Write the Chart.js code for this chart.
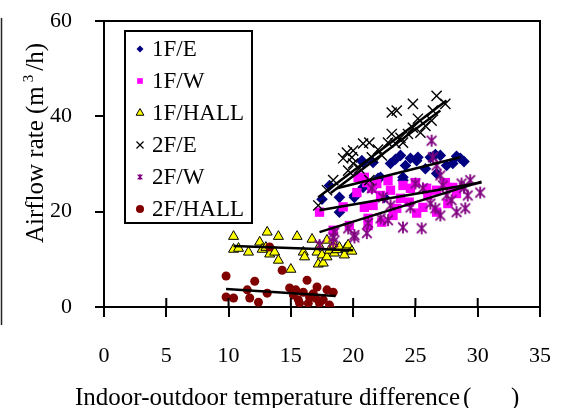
<!DOCTYPE html>
<html>
<head>
<meta charset="utf-8">
<script src="https://cdn.jsdelivr.net/npm/chart.js@4.4.0/dist/chart.umd.min.js"></script>
<style>
  html, body { margin: 0; padding: 0; background: #fff; }
  canvas { display: block; }
</style>
</head>
<body>
<canvas id="airflow-chart" width="569" height="408"></canvas>
<script>
//~~~~~~~~~~~~~~~~~~~~~~~~~~~~~~~~~~~~~~~~~~~~~~~~~~~~~~~~~~~~~~~~~~~~~~~~~
// DATA
const xTicks = [0, 5, 10, 15, 20, 25, 30, 35];
const yTicks = [0, 20, 40, 60];
const seriesNames = ["1F/E", "1F/W", "1F/HALL", "2F/E", "2F/W", "2F/HALL"];

// 1F/E
const f1eX = [17.5, 18.1, 18.9, 18.9, 20.1, 20.1, 20.5, 20.7, 20.8, 20.8, 21.5, 21.6, 22.0, 22.2, 22.5, 23.0, 23.4, 23.8, 24.0, 24.0, 24.2, 24.6, 25.1, 25.2, 25.8, 26.2, 26.6, 26.7, 27.0, 27.5, 28.0, 28.3, 28.6, 28.9];
const f1eY = [22.6, 25.5, 23.0, 19.9, 23.4, 23.0, 27.0, 30.7, 30.3, 25.1, 24.9, 30.3, 27.0, 27.2, 23.0, 30.1, 31.0, 31.8, 27.2, 26.6, 29.7, 31.2, 30.7, 31.4, 29.0, 31.4, 32.0, 28.0, 31.8, 29.7, 30.1, 31.6, 31.2, 30.5];
// 1F/W
const f1wX = [17.3, 18.4, 19.2, 19.7, 20.3, 20.4, 20.9, 20.9, 21.1, 21.2, 21.2, 21.5, 21.6, 21.9, 22.2, 22.3, 22.8, 23.0, 23.2, 23.5, 23.8, 24.0, 24.5, 24.6, 25.0, 25.1, 25.6, 25.9, 26.0, 26.7, 26.7, 27.4, 27.6, 28.0, 28.3];
const f1wY = [19.9, 16.1, 21.0, 17.1, 24.0, 27.2, 27.2, 20.9, 26.1, 18.6, 17.1, 24.9, 21.3, 25.9, 23.4, 17.8, 26.5, 24.5, 19.2, 20.7, 22.8, 25.5, 22.0, 24.9, 26.1, 19.7, 20.9, 24.9, 23.4, 24.5, 19.9, 26.1, 21.7, 25.1, 23.8];
// 1F/HALL
const f1hX = [10.4, 10.4, 10.8, 11.6, 12.5, 12.7, 13.0, 13.1, 13.3, 13.7, 14.0, 14.0, 15.0, 15.5, 16.0, 16.1, 16.7, 17.1, 17.2, 17.3, 17.5, 17.6, 17.9, 17.9, 18.1, 18.5, 18.5, 18.7, 18.9, 19.3, 19.4, 19.6, 19.9];
const f1hY = [14.8, 12.1, 12.3, 11.5, 13.6, 12.1, 12.5, 15.7, 11.1, 11.5, 14.8, 9.8, 7.9, 14.8, 11.5, 10.5, 14.2, 11.5, 9.0, 12.8, 10.9, 9.2, 10.5, 14.0, 11.9, 13.0, 11.3, 12.0, 12.5, 10.9, 12.3, 13.0, 11.7];
// 2F/E
const f2eX = [17.2, 17.9, 18.4, 19.2, 19.5, 19.6, 19.9, 20.0, 20.0, 20.5, 20.8, 21.3, 21.3, 21.5, 22.0, 22.3, 22.8, 23.1, 23.1, 23.4, 23.5, 23.8, 24.0, 24.4, 24.8, 24.8, 25.2, 25.4, 25.8, 26.3, 26.4, 26.7, 27.4];
const f2eY = [21.3, 24.5, 26.6, 31.2, 32.4, 28.6, 31.4, 32.8, 30.1, 29.1, 34.3, 34.5, 26.6, 31.4, 33.0, 31.8, 34.5, 36.3, 40.8, 34.3, 41.2, 35.5, 34.5, 36.3, 37.6, 42.6, 39.5, 36.6, 38.0, 39.1, 41.2, 44.3, 42.6];
// 2F/W
const f2wX = [17.3, 18.4, 18.4, 18.5, 19.6, 20.1, 20.1, 21.1, 21.2, 21.5, 22.2, 22.4, 22.8, 23.0, 24.0, 24.6, 25.0, 25.5, 25.6, 26.2, 26.3, 26.4, 26.6, 26.7, 27.0, 27.0, 27.2, 27.5, 27.9, 28.3, 28.7, 28.9, 29.0, 29.2, 29.4, 30.2];
const f2wY = [13.0, 13.6, 14.6, 15.7, 16.5, 14.6, 15.1, 15.5, 17.6, 24.9, 18.6, 23.0, 18.2, 21.3, 16.7, 20.9, 25.9, 16.5, 24.9, 21.7, 34.9, 31.4, 20.7, 29.7, 27.6, 19.2, 25.5, 23.4, 22.4, 19.9, 25.9, 25.0, 20.7, 23.4, 26.6, 24.0];
// 2F/HALL
const f2hX = [9.8, 9.8, 10.4, 11.5, 11.7, 12.1, 12.4, 13.1, 13.3, 14.3, 14.9, 15.2, 15.4, 15.6, 15.7, 16.0, 16.3, 16.4, 16.5, 16.8, 17.0, 17.1, 17.3, 17.6, 17.9, 18.1, 18.4];
const f2hY = [6.5, 2.1, 1.9, 3.6, 1.9, 5.4, 1.0, 2.9, 12.6, 7.7, 4.0, 2.5, 3.6, 1.5, 0.8, 3.1, 5.6, 0.8, 2.1, 2.8, 1.8, 4.2, 0.8, 1.5, 3.6, 0.4, 3.1];

// trend lines: [x1, y1, x2, y2]
const trend1E = [18.7, 24.9, 28.6, 31.4];
const trend1W = [17.3, 20.3, 30.3, 26.1];
const trend1H = [10.4, 12.8, 20.0, 11.9];
const trend2E = [17.2, 23.0, 27.5, 43.3];
const trend2Eb = [18.2, 23.9, 27.0, 41.2];
const trend2W = [17.3, 15.7, 30.3, 26.3];
const trend2H = [9.8, 3.8, 18.6, 2.3];

//~~~~~~~~~~~~~~~~~~~~~~~~~~~~~~~~~~~~~~~~~~~~~~~~~~~~~~~~~~~~~~~~~~~~~~~~~
// helpers
const serif = "'Liberation Serif', 'Times New Roman', serif";
const toPoints = (xs, ys) => xs.map((x, i) => ({ x: x, y: ys[i] }));
const toLine = (t) => [{ x: t[0], y: t[1] }, { x: t[2], y: t[3] }];

// asterisk marker (x with a vertical bar) like the 2F/W points
const makeAsterisk = (size, color, width) => {
  const c = document.createElement("canvas");
  c.width = size;
  c.height = size;
  const g = c.getContext("2d");
  const m = size / 2;
  const a = size / 2 - 1;
  g.strokeStyle = color;
  g.lineWidth = width;
  g.beginPath();
  g.moveTo(m - a * 0.8, m - a * 0.8);
  g.lineTo(m + a * 0.8, m + a * 0.8);
  g.moveTo(m + a * 0.8, m - a * 0.8);
  g.lineTo(m - a * 0.8, m + a * 0.8);
  g.moveTo(m, m - a);
  g.lineTo(m, m + a);
  g.stroke();
  return c;
};
const asteriskBig = makeAsterisk(14, "#800080", 1.8);
const asteriskSmall = makeAsterisk(8, "#800080", 1.3);

const scatterSet = (label, xs, ys, style, order) =>
  Object.assign(
    {
      type: "scatter",
      label: label,
      data: toPoints(xs, ys),
      order: order,
    },
    style
  );

const lineSet = (t) => ({
  type: "line",
  label: "",
  data: toLine(t),
  borderColor: "#000",
  borderWidth: 2.5,
  pointRadius: 0,
  fill: false,
  showLine: true,
  order: 0,
});

// legend marker styles (smaller than the plot markers)
const legendMarkers = [
  { pointStyle: "rectRot", radius: 3.5, fill: "#000080", stroke: "#000080", borderWidth: 0 },
  { pointStyle: "rect", radius: 4, fill: "#ff00ff", stroke: "#ff00ff", borderWidth: 0 },
  { pointStyle: "triangle", radius: 4.5, fill: "#ffff00", stroke: "#000", borderWidth: 1 },
  { pointStyle: "crossRot", radius: 5, fill: "#000", stroke: "#000", borderWidth: 1.2 },
  { pointStyle: asteriskSmall, radius: 4, fill: "#800080", stroke: "#800080", borderWidth: 0 },
  { pointStyle: "circle", radius: 4, fill: "#800000", stroke: "#800000", borderWidth: 0 },
];

//~~~~~~~~~~~~~~~~~~~~~~~~~~~~~~~~~~~~~~~~~~~~~~~~~~~~~~~~~~~~~~~~~~~~~~~~~
// frame, titles and legend drawn on top
const chartDecor = {
  id: "chartDecor",
  afterDraw(chart) {
    const ctx = chart.ctx;
    const area = chart.chartArea;
    const xs = chart.scales.x;
    ctx.save();

    // page edge line at the far left
    ctx.strokeStyle = "#222";
    ctx.lineWidth = 1.5;
    ctx.beginPath();
    ctx.moveTo(1.5, 18);
    ctx.lineTo(1.5, 325);
    ctx.stroke();

    // top + right frame, inner half of x ticks
    ctx.strokeStyle = "#000";
    ctx.lineWidth = 2;
    ctx.beginPath();
    ctx.moveTo(area.left - 4, area.top);
    ctx.lineTo(area.right, area.top);
    ctx.lineTo(area.right, area.bottom + 10);
    xs.ticks.forEach((t) => {
      const px = xs.getPixelForValue(t.value);
      ctx.moveTo(px, area.bottom);
      ctx.lineTo(px, area.bottom - 9);
    });
    ctx.stroke();

    // legend box
    const bx = area.left + 21;
    const by = area.top + 10;
    const bw = 127;
    const bh = 192;
    ctx.fillStyle = "#fff";
    ctx.fillRect(bx, by, bw, bh);
    ctx.strokeRect(bx, by, bw, bh);
    ctx.font = "23px " + serif;
    ctx.textBaseline = "middle";
    ctx.textAlign = "left";
    seriesNames.forEach((name, i) => {
      const cy = by + 18 + i * 32;
      const mk = legendMarkers[i];
      if (typeof mk.pointStyle === "string") {
        ctx.fillStyle = mk.fill;
        ctx.strokeStyle = mk.stroke;
        ctx.lineWidth = mk.borderWidth;
        Chart.helpers.drawPoint(ctx, { pointStyle: mk.pointStyle, radius: mk.radius, rotation: 0, borderWidth: mk.borderWidth }, bx + 15, cy);
      } else {
        ctx.drawImage(mk.pointStyle, bx + 15 - mk.pointStyle.width / 2, cy - mk.pointStyle.height / 2);
      }
      ctx.fillStyle = "#000";
      ctx.fillText(name, bx + 27, cy + 1);
    });

    // y title, rotated, with superscript 3
    ctx.fillStyle = "#000";
    ctx.translate(35, 143);
    ctx.rotate(-Math.PI / 2);
    const big = "25px " + serif;
    const small = "15px " + serif;
    const p1 = "Airflow rate (m";
    const p2 = "3";
    const p3 = "/h)";
    ctx.font = big;
    const w1 = ctx.measureText(p1).width;
    const w3 = ctx.measureText(p3).width;
    ctx.font = small;
    const w2 = ctx.measureText(p2).width;
    const gap = 4;
    const total = w1 + gap + w2 + gap + w3;
    let cx = -total / 2;
    ctx.textBaseline = "alphabetic";
    ctx.font = big;
    ctx.fillText(p1, cx, 8);
    cx += w1 + gap;
    ctx.font = small;
    ctx.fillText(p2, cx, -2);
    cx += w2 + gap;
    ctx.font = big;
    ctx.fillText(p3, cx, 8);
    ctx.setTransform(1, 0, 0, 1, 0, 0);

    // x title
    ctx.font = big;
    ctx.textBaseline = "alphabetic";
    const xt = "Indoor-outdoor temperature difference";
    ctx.fillText(xt, 75, 405);
    const xe = 75 + ctx.measureText(xt).width;
    ctx.fillText("(", xe + 3, 405);
    ctx.fillText(")", 511, 405);

    ctx.restore();
  },
};

//~~~~~~~~~~~~~~~~~~~~~~~~~~~~~~~~~~~~~~~~~~~~~~~~~~~~~~~~~~~~~~~~~~~~~~~~~
// CHART
const datasets = [
  lineSet(trend1E),
  lineSet(trend1W),
  lineSet(trend1H),
  lineSet(trend2E),
  lineSet(trend2Eb),
  lineSet(trend2W),
  lineSet(trend2H),
  scatterSet(seriesNames[0], f1eX, f1eY, { pointStyle: "rectRot", pointRadius: 5.8, pointBackgroundColor: "#000080", pointBorderColor: "#000080", pointBorderWidth: 0 }, 6),
  scatterSet(seriesNames[1], f1wX, f1wY, { pointStyle: "rect", pointRadius: 6.6, pointBackgroundColor: "#ff00ff", pointBorderColor: "#ff00ff", pointBorderWidth: 0 }, 5),
  scatterSet(seriesNames[2], f1hX, f1hY, { pointStyle: "triangle", pointRadius: 5.8, pointBackgroundColor: "#ffff00", pointBorderColor: "#000", pointBorderWidth: 1 }, 4),
  scatterSet(seriesNames[3], f2eX, f2eY, { pointStyle: "crossRot", pointRadius: 7.2, pointBackgroundColor: "#000", pointBorderColor: "#000", pointBorderWidth: 1.4 }, 3),
  scatterSet(seriesNames[4], f2wX, f2wY, { pointStyle: asteriskBig, pointRadius: 7, pointBackgroundColor: "#800080", pointBorderColor: "#800080", pointBorderWidth: 0 }, 2),
  scatterSet(seriesNames[5], f2hX, f2hY, { pointStyle: "circle", pointRadius: 4.5, pointBackgroundColor: "#800000", pointBorderColor: "#800000", pointBorderWidth: 0 }, 1),
];

const axisFont = { family: serif, size: 22 };

let config = {
  type: "scatter",
  data: { datasets: datasets },
  options: {
    responsive: false,
    animation: false,
    layout: { padding: { top: 21, right: 29, left: 0, bottom: 0 } },
    plugins: {
      legend: { display: false },
      tooltip: { enabled: false },
    },
    scales: {
      x: {
        type: "linear",
        min: 0,
        max: 35,
        afterBuildTicks: (scale) => {
          scale.ticks = xTicks.map((v) => ({ value: v }));
        },
        afterFit: (scale) => {
          // fixed plot box: no extra room for the end labels
          scale.height = 101;
          scale.paddingLeft = 0;
          scale.paddingRight = 0;
        },
        ticks: { color: "#000", font: axisFont, padding: 26, maxRotation: 0, autoSkip: false },
        grid: { drawOnChartArea: false, drawTicks: true, tickLength: 10, color: "#000", lineWidth: 2 },
        border: { color: "#000", width: 2 },
      },
      y: {
        type: "linear",
        min: 0,
        max: 60,
        afterBuildTicks: (scale) => {
          scale.ticks = yTicks.map((v) => ({ value: v }));
        },
        afterFit: (scale) => {
          scale.width = 104;
          scale.paddingTop = 0;
          scale.paddingBottom = 0;
        },
        ticks: { color: "#000", font: axisFont, padding: 23, autoSkip: false },
        grid: { drawOnChartArea: false, drawTicks: true, tickLength: 9, color: "#000", lineWidth: 2 },
        border: { color: "#000", width: 2 },
      },
    },
  },
  plugins: [chartDecor],
};

let airflowChart = new Chart(document.getElementById("airflow-chart"), config);
</script>
</body>
</html>
